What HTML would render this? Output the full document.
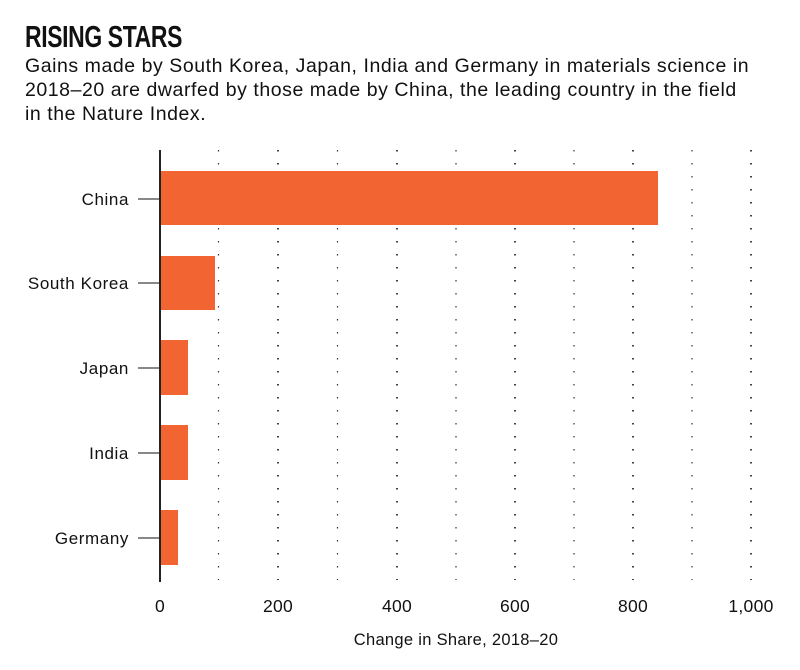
<!DOCTYPE html>
<html><head><style>
body{margin:0;background:#fff;width:800px;height:670px;overflow:hidden;font-family:"Liberation Sans",sans-serif;}
.t{position:absolute;left:25px;top:20px;font-family:"Liberation Sans Narrow","Liberation Sans",sans-serif;font-weight:bold;font-size:31px;line-height:34px;color:#111;transform:scaleX(0.74);transform-origin:left;letter-spacing:-0.5px}
.s{position:absolute;left:25px;top:54px;font-size:19.5px;line-height:24px;color:#111;width:790px;letter-spacing:0.55px;white-space:nowrap}
</style></head><body>
<div class="t">RISING STARS</div>
<div class="s">Gains made by South Korea, Japan, India and Germany in materials science in<br>2018–20 are dwarfed by those made by China, the leading country in the field<br>in the Nature Index.</div>
<svg width="800" height="670" style="position:absolute;left:0;top:0" font-family="Liberation Sans, sans-serif">
<g stroke="#333" stroke-width="1.2" stroke-dasharray="1.5 11.5">
<line x1="218.5" y1="150" x2="218.5" y2="580"/>
<line x1="278" y1="150" x2="278" y2="580" stroke="#111" stroke-width="1.6"/>
<line x1="337.5" y1="150" x2="337.5" y2="580"/>
<line x1="397" y1="150" x2="397" y2="580" stroke="#111" stroke-width="1.6"/>
<line x1="456" y1="150" x2="456" y2="580"/>
<line x1="515" y1="150" x2="515" y2="580" stroke="#111" stroke-width="1.6"/>
<line x1="574" y1="150" x2="574" y2="580"/>
<line x1="633" y1="150" x2="633" y2="580" stroke="#111" stroke-width="1.6"/>
<line x1="692" y1="150" x2="692" y2="580"/>
<line x1="751" y1="150" x2="751" y2="580" stroke="#111" stroke-width="1.6"/>
</g>
<g fill="#f26532">
<rect x="160" y="171" width="498" height="54"/>
<rect x="160" y="256" width="55" height="54"/>
<rect x="160" y="340" width="28" height="55"/>
<rect x="160" y="425" width="28" height="55"/>
<rect x="160" y="510" width="18" height="55"/>
</g>
<g stroke="#888" stroke-width="2">
<line x1="138" y1="199" x2="160" y2="199"/>
<line x1="138" y1="283" x2="160" y2="283"/>
<line x1="138" y1="368" x2="160" y2="368"/>
<line x1="138" y1="453" x2="160" y2="453"/>
<line x1="138" y1="538" x2="160" y2="538"/>
</g>
<line x1="160" y1="150" x2="160" y2="582" stroke="#222" stroke-width="2"/>
<g font-size="17" fill="#111" text-anchor="end" letter-spacing="0.6">
<text x="129" y="205">China</text>
<text x="129" y="289">South Korea</text>
<text x="129" y="374">Japan</text>
<text x="129" y="459">India</text>
<text x="129" y="544">Germany</text>
</g>
<g font-size="17.5" fill="#111" text-anchor="middle" letter-spacing="0.3">
<text x="160" y="612">0</text>
<text x="278" y="612">200</text>
<text x="397" y="612">400</text>
<text x="515" y="612">600</text>
<text x="633" y="612">800</text>
<text x="751" y="612">1,000</text>
<text x="456" y="645" font-size="16.5">Change in Share, 2018–20</text>
</g>
</svg>
</body></html>
